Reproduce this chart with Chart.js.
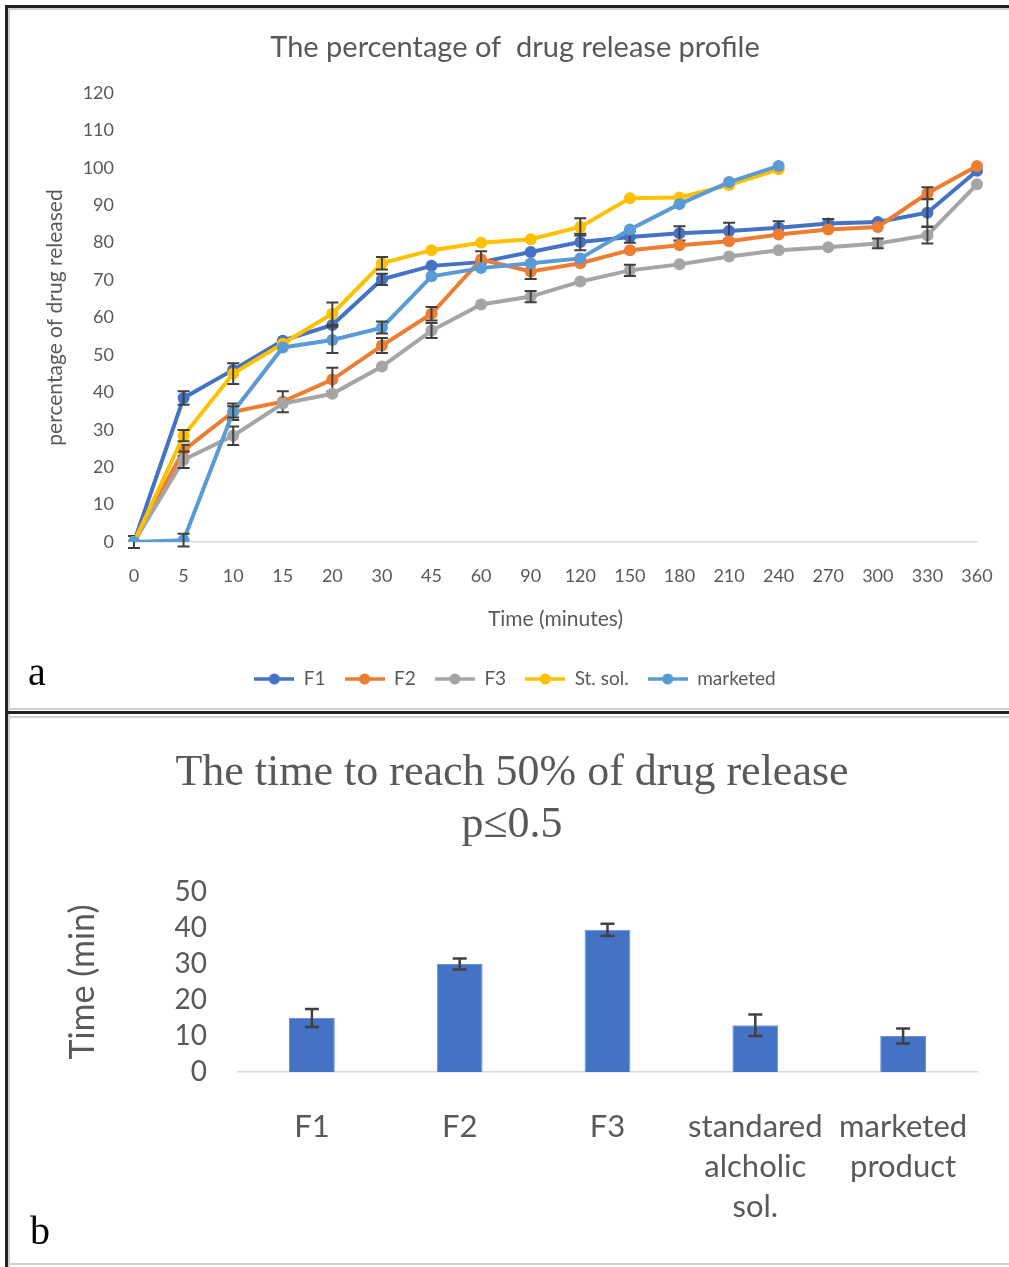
<!DOCTYPE html>
<html>
<head>
<meta charset="utf-8">
<script src="https://cdn.jsdelivr.net/npm/chart.js@4.4.1/dist/chart.umd.min.js"></script>
<style>
  html, body { margin: 0; padding: 0; background: #fff; }
  body { position: relative; width: 1009px; height: 1267px; overflow: hidden; }
  .rule { position: absolute; }
  canvas { position: absolute; left: 0; }
  .tag { position: absolute; font-family: 'Liberation Serif', 'Times New Roman', serif; font-size: 40px; line-height: 1; color: #000; }
</style>
</head>
<body>
<!-- panel frames -->
<div class="rule" style="left:5px;top:5px;width:1004px;height:3px;background:#222;"></div>
<div class="rule" style="left:8px;top:8px;width:1001px;height:2px;background:#d0d0d0;"></div>
<div class="rule" style="left:5px;top:5px;width:3px;height:1262px;background:#222;"></div>
<div class="rule" style="left:8px;top:8px;width:2px;height:1259px;background:#d0d0d0;"></div>
<div class="rule" style="left:8px;top:708px;width:1001px;height:2px;background:#d0d0d0;"></div>
<div class="rule" style="left:5px;top:711px;width:1004px;height:3px;background:#222;"></div>
<div class="rule" style="left:8px;top:716px;width:1001px;height:2px;background:#d0d0d0;"></div>
<div class="rule" style="left:8px;top:1263px;width:1001px;height:2px;background:#d0d0d0;"></div>

<canvas id="release" width="1009" height="712" style="top:0;width:1009px;height:712px;"></canvas>
<canvas id="t50" width="1009" height="552" style="top:715px;width:1009px;height:552px;"></canvas>

<div class="tag" style="left:28px;top:652px;">a</div>
<div class="tag" style="left:30px;top:1211px;">b</div>

<script>
// ---- release profile (minutes) ----
const times = ['0', '5', '10', '15', '20', '30', '45', '60', '90', '120', '150', '180', '210', '240', '270', '300', '330', '360'];

const f1 = [0, 38.5, 46, 53.8, 58, 70.2, 73.8, 74.8, 77.5, 80.2, 81.5, 82.5, 83.1, 84, 85.1, 85.5, 88, 99.2];
const f2 = [0, 24.5, 34.8, 37.5, 43.4, 52.5, 61, 75.5, 72.3, 74.5, 78, 79.3, 80.4, 82.2, 83.5, 84.2, 93.2, 100.5];
const f3 = [0, 22, 28.4, 37, 39.6, 46.9, 56.5, 63.5, 65.6, 69.6, 72.6, 74.2, 76.3, 78, 78.8, 79.8, 82, 95.6];
const stSol = [0, 28.4, 45, 53, 61, 74.5, 78, 80, 80.9, 84.2, 91.9, 92.1, 95.4, 99.6];
const marketed = [0, 0.5, 34.8, 52, 54, 57.3, 71, 73.2, 74.5, 75.8, 83.5, 90.3, 96.2, 100.5];

// standard deviations (0 = too small to show past the marker)
const f1Err = [1.6, 1.8, 0, 0, 0, 1.5, 0, 0, 0, 2.2, 1.5, 1.9, 2.2, 1.7, 1.2, 0, 3.7, 0];
const f2Err = [0, 1.5, 2.2, 2.8, 3.2, 2, 1.8, 2.2, 2, 0, 0, 0, 0, 0, 0, 0, 1.6, 0];
const f3Err = [0, 2.2, 2.5, 0, 0, 0, 2, 0, 1.5, 0, 1.5, 0, 0, 0, 0, 1.3, 2.2, 0];
const stErr = [0, 1.5, 2.8, 0, 3, 1.7, 0, 0, 0, 2.3, 0, 0, 0, 0];
const mkErr = [0, 1.7, 1.5, 0, 3.5, 1.6, 0, 0, 0, 0, 0, 0, 0, 0];

const yTicks = [0, 10, 20, 30, 40, 50, 60, 70, 80, 90, 100, 110, 120];

// ---- time to 50% release ----
const groups = [['F1'], ['F2'], ['F3'], ['standared', 'alcholic', 'sol.'], ['marketed', 'product']];
const t50 = [15, 30, 39.5, 13, 10];
const t50Err = [2.5, 1.5, 1.7, 3, 2.1];
const t50Ticks = [0, 10, 20, 30, 40, 50];

const GREY = '#595959';
const SANS = "Lato, 'Open Sans', sans-serif";

// vertical error bars with caps, drawn right after each dataset
const errorBarPlugin = {
  id: 'errorBars',
  afterDatasetDraw(chart, args, opts) {
    const ds = chart.data.datasets[args.index];
    if (!ds.errorBars) return;
    const y = chart.scales.y;
    const ctx = chart.ctx;
    ctx.save();
    ctx.strokeStyle = opts.color;
    ctx.lineWidth = opts.width;
    args.meta.data.forEach((el, i) => {
      const v = ds.data[i];
      const e = ds.errorBars[i];
      if (v == null || !e) return;
      const x = el.x;
      const top = y.getPixelForValue(v + e);
      const bot = y.getPixelForValue(v - e);
      const h = opts.cap / 2;
      ctx.beginPath();
      ctx.moveTo(x, top); ctx.lineTo(x, bot);
      ctx.moveTo(x - h, top); ctx.lineTo(x + h, top);
      ctx.moveTo(x - h, bot); ctx.lineTo(x + h, bot);
      ctx.stroke();
    });
    ctx.restore();
  }
};

// legend swatch: short line with a round marker
function legendMark(color) {
  const c = document.createElement('canvas');
  c.width = 40; c.height = 14;
  const g = c.getContext('2d');
  g.strokeStyle = color; g.lineWidth = 3.5;
  g.beginPath(); g.moveTo(0, 7); g.lineTo(40, 7); g.stroke();
  g.fillStyle = color;
  g.beginPath(); g.arc(20, 7, 5.5, 0, Math.PI * 2); g.fill();
  return c;
}

function lineSet(label, data, errs, color, order) {
  return {
    label, data, errorBars: errs, order,
    borderColor: color, backgroundColor: color,
    borderWidth: 4, pointRadius: 6, pointHoverRadius: 6,
    pointBackgroundColor: color, pointBorderColor: color, pointBorderWidth: 0,
    tension: 0, spanGaps: false
  };
}

new Chart(document.getElementById('release'), {
  type: 'line',
  data: {
    labels: times,
    datasets: [
      lineSet('F1', f1, f1Err, '#4472C4', 5),
      lineSet('F2', f2, f2Err, '#ED7D31', 4),
      lineSet('F3', f3, f3Err, '#A5A5A5', 3),
      lineSet('St. sol.', stSol, stErr, '#FFC000', 2),
      lineSet('marketed', marketed, mkErr, '#5B9BD5', 1)
    ]
  },
  options: {
    responsive: false,
    animation: false,
    events: [],
    layout: { padding: { left: 53, right: 32, top: 0, bottom: 13.5 } },
    plugins: {
      title: {
        display: true,
        text: 'The percentage of  drug release profile',
        color: GREY,
        font: { family: SANS, size: 29, weight: 'normal', lineHeight: 1.2 },
        padding: { top: 30.6, bottom: 27.6 }
      },
      legend: {
        position: 'bottom',
        labels: {
          usePointStyle: true,
          pointStyleWidth: 40,
          padding: 19,
          color: GREY,
          font: { family: SANS, size: 19 },
          generateLabels: chart => chart.data.datasets.map((ds, i) => ({
            text: ds.label,
            pointStyle: legendMark(ds.borderColor),
            fillStyle: ds.borderColor,
            strokeStyle: ds.borderColor,
            lineWidth: 0,
            hidden: false,
            datasetIndex: i,
            fontColor: GREY
          }))
        }
      },
      tooltip: { enabled: false },
      errorBars: { color: '#404040', width: 2, cap: 12 }
    },
    scales: {
      x: {
        type: 'category',
        offset: false,
        grid: { display: false, drawTicks: false },
        border: { display: true, color: '#d9d9d9', width: 1.5 },
        // tall line box keeps the labels clear of the axis without extra side padding
        ticks: { color: GREY, font: { family: SANS, size: 18, lineHeight: 68 / 18 }, padding: 0, autoSkip: false, maxRotation: 0 },
        title: {
          display: true, text: 'Time (minutes)', color: GREY,
          font: { family: SANS, size: 21, lineHeight: 1.2 },
          padding: { top: 0, bottom: 18.4 }
        },
        afterFit: s => { s.height = 108.5; }
      },
      y: {
        min: 0, max: 120,
        afterBuildTicks: s => { s.ticks = yTicks.map(v => ({ value: v })); },
        grid: { display: false, drawTicks: false },
        border: { display: false },
        ticks: { color: GREY, font: { family: SANS, size: 18 }, padding: 20, autoSkip: false },
        title: {
          display: true, text: 'percentage of drug released', color: GREY,
          font: { family: SANS, size: 21, lineHeight: 1.2 },
          padding: { top: -10.6, bottom: 0 }
        },
        afterFit: s => { s.width = 81; }
      }
    }
  },
  plugins: [errorBarPlugin]
});

new Chart(document.getElementById('t50'), {
  type: 'bar',
  data: {
    labels: groups,
    datasets: [{
      label: 'Time to 50% release',
      data: t50,
      errorBars: t50Err,
      backgroundColor: '#4472C4',
      borderColor: '#6d93d6',
      borderWidth: 1,
      categoryPercentage: 1,
      barPercentage: 0.31
    }]
  },
  options: {
    responsive: false,
    animation: false,
    events: [],
    layout: { padding: { left: 47, right: 32, top: 0, bottom: 0 } },
    plugins: {
      title: {
        display: true,
        text: ['The time to reach 50% of drug release', 'p\u22640.5'],
        color: GREY,
        font: { family: "'Liberation Serif', 'Times New Roman', serif", size: 44, weight: 'normal', lineHeight: 52 / 44 },
        padding: { top: 32, bottom: 41 }
      },
      legend: { display: false },
      tooltip: { enabled: false },
      errorBars: { color: '#404040', width: 2.5, cap: 14 }
    },
    scales: {
      x: {
        grid: { display: false, drawTicks: false },
        border: { display: true, color: '#d9d9d9', width: 1.5 },
        ticks: { color: GREY, font: { family: SANS, size: 31, lineHeight: 40 / 31 }, padding: 35, autoSkip: false, maxRotation: 0 },
        afterFit: s => { s.height = 195; }
      },
      y: {
        min: 0, max: 50,
        afterBuildTicks: s => { s.ticks = t50Ticks.map(v => ({ value: v })); },
        grid: { display: false, drawTicks: false },
        border: { display: false },
        ticks: { color: GREY, font: { family: SANS, size: 28 }, padding: 31, autoSkip: false },
        title: {
          display: true, text: 'Time (min)', color: GREY,
          font: { family: SANS, size: 34, lineHeight: 1.2 },
          padding: { top: 15.6, bottom: 0 }
        },
        afterFit: s => { s.width = 191; }
      }
    }
  },
  plugins: [errorBarPlugin]
});
</script>
</body>
</html>
